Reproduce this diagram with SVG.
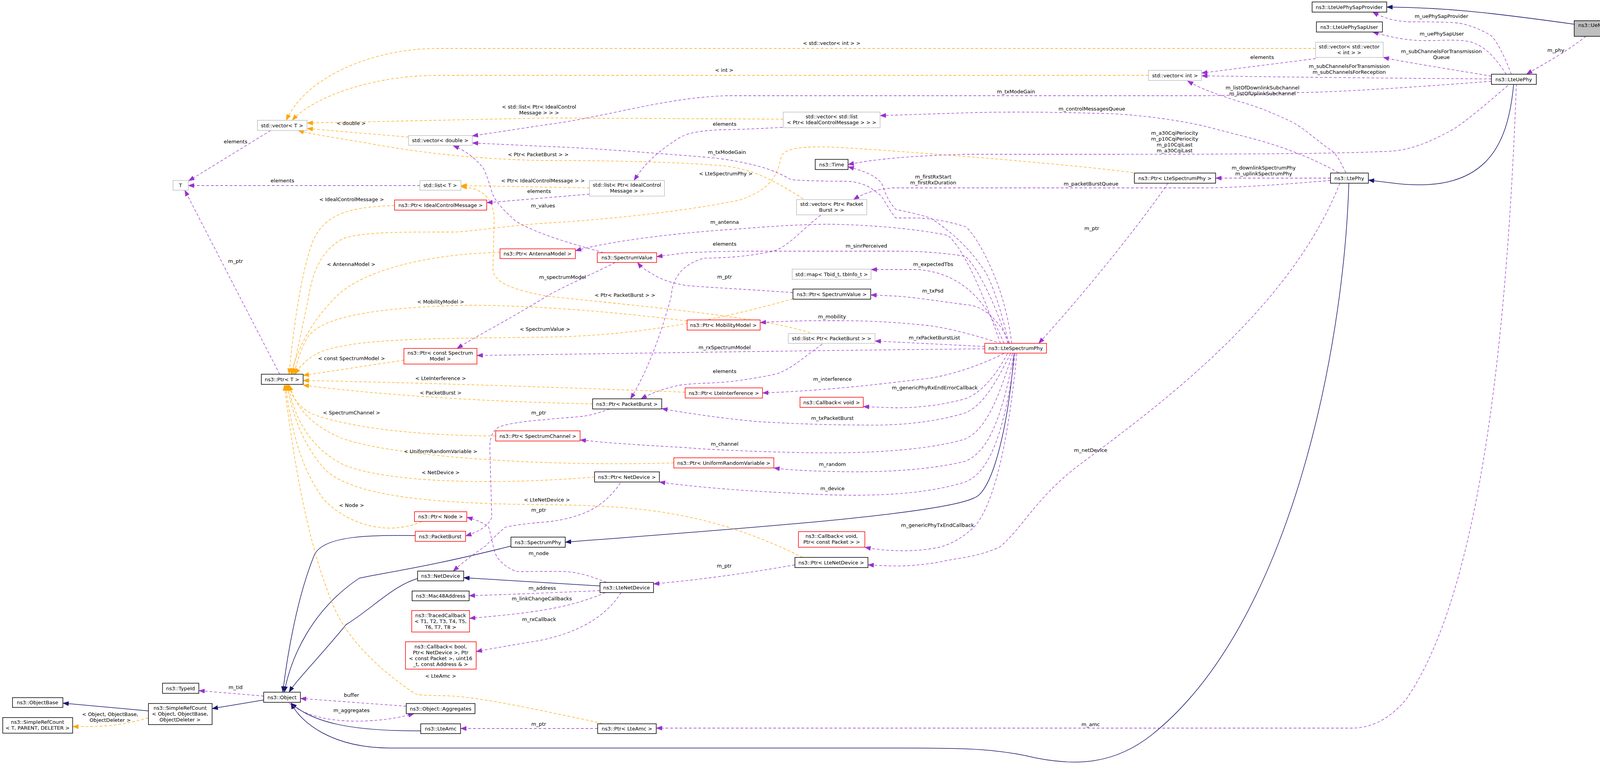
<svg xmlns="http://www.w3.org/2000/svg" width="4245" height="1961" viewBox="0 0 4245 1961">
<style>
text{font-family:"DejaVu Sans","Liberation Sans",Arial,sans-serif;font-size:13px;text-anchor:middle;fill:#000}
.nb{fill:#fff;stroke:#000;stroke-width:1.5}
.ng{fill:#fff;stroke:#bfbfbf;stroke-width:1.5}
.nr{fill:#fff;stroke:#ff0000;stroke-width:1.5}
.ns{fill:#bfbfbf;stroke:#000;stroke-width:1.5}
.p{fill:none;stroke:#9a32cd;stroke-width:1.3;stroke-dasharray:7,5;marker-end:url(#mp)}
.o{fill:none;stroke:#ffa500;stroke-width:1.3;stroke-dasharray:7,5;marker-end:url(#mo)}
.i{fill:none;stroke:#191970;stroke-width:1.5;marker-end:url(#mi)}
</style>
<defs>
<marker id="mp" markerUnits="userSpaceOnUse" markerWidth="16" markerHeight="12" refX="15" refY="6" orient="auto"><path d="M0,0 L16,6 L0,12 z" fill="#9a32cd"/></marker>
<marker id="mo" markerUnits="userSpaceOnUse" markerWidth="16" markerHeight="12" refX="15" refY="6" orient="auto"><path d="M0,0 L16,6 L0,12 z" fill="#ffa500"/></marker>
<marker id="mi" markerUnits="userSpaceOnUse" markerWidth="16" markerHeight="12" refX="15" refY="6" orient="auto"><path d="M0,0 L16,6 L0,12 z" fill="#191970"/></marker>
</defs>
<rect width="4245" height="1961" fill="#fff"/>
<g id="edges">
<path class="i" d="M4030,62 C3800,30 3700,20 3550,18"/>
<path class="i" d="M3875,215 C3860,380 3800,500 3560,468 L3503,461"/>
<path class="i" d="M3453,469 C3440,900 3300,1600 2950,1880 C2850,1960 2750,1960 2650,1940 C2550,1915 2450,1915 2300,1915 L1000,1915 C850,1915 770,1850 745,1800"/>
<path class="i" d="M2596,905 C2580,1100 2540,1260 2493,1275 C2400,1320 1800,1360 1447,1388"/>
<path class="i" d="M1308,1398 C1100,1450 1020,1460 920,1480 C800,1560 745,1680 728,1772"/>
<path class="i" d="M1063,1371 C950,1370 830,1370 805,1420 C760,1530 735,1680 724,1772"/>
<path class="i" d="M1069,1481 C1005,1500 950,1560 886,1599 C820,1680 760,1740 740,1772"/>
<path class="i" d="M1536,1500 L1187,1479"/>
<path class="i" d="M1077,1871 C900,1872 800,1850 745,1800"/>
<path class="i" d="M380,1820 L161,1800"/>
<path class="i" d="M675,1792 L543,1814"/>
<path class="o" d="M3368,124 L1120,124 C950,124 780,200 733,308"/>
<path class="o" d="M2940,193 L1120,193 C950,193 800,250 748,308"/>
<path class="o" d="M2005,305 L1400,302 L786,315"/>
<path class="o" d="M1046,351 L786,329"/>
<path class="o" d="M2056,509 C1980,460 1920,430 1846,424 C1700,412 1500,411 1400,411 C1250,409 1100,395 960,370 C880,355 800,345 763,334"/>
<path class="o" d="M1509,481 L1180,475"/>
<path class="o" d="M2074,852 C1950,810 1600,780 1400,758 C1300,740 1265,720 1262,690 L1265,560 C1263,510 1240,482 1180,478"/>
<path class="o" d="M1010,526 C900,530 830,545 800,620 C770,700 750,850 740,958"/>
<path class="o" d="M1280,646 C1100,650 930,690 860,760 C790,830 760,900 745,958"/>
<path class="o" d="M1759,822 C1600,800 1300,775 1143,783 C960,790 830,810 790,860 C770,890 760,930 752,958"/>
<path class="o" d="M2030,765 C1800,830 1600,860 1400,863 C1200,866 1000,865 893,883 C830,893 790,905 755,958"/>
<path class="o" d="M1034,922 L776,961"/>
<path class="o" d="M1754,1004 C1400,990 1000,978 776,974"/>
<path class="o" d="M1517,1034 C1300,1030 1000,1015 776,986"/>
<path class="o" d="M1269,1116 C1000,1115 850,1080 800,1060 C760,1040 745,1010 740,985"/>
<path class="o" d="M1725,1185 C1400,1195 1000,1170 870,1120 C780,1080 755,1030 740,985"/>
<path class="o" d="M1522,1221 C1300,1240 1000,1240 880,1190 C780,1140 750,1050 737,985"/>
<path class="o" d="M2055,1427 C1800,1300 1600,1295 1400,1292 C1100,1290 900,1270 830,1200 C770,1130 750,1060 734,985"/>
<path class="o" d="M1080,1335 C1000,1370 900,1350 830,1280 C770,1200 745,1100 731,985"/>
<path class="o" d="M1542,1852 C1300,1800 1200,1781 1132,1781 C1090,1780 1070,1780 1061,1775 C950,1700 880,1620 851,1545 C800,1420 760,1250 728,985"/>
<path class="o" d="M2901,442 C2800,428 2500,400 2159,378 C2050,372 2010,380 2000,400 C1990,460 1960,490 1891,513 C1700,550 1500,565 1400,571 C1300,577 1200,594 1161,594 C1000,594 937,594 880,610 C820,640 800,700 790,760 C770,860 755,920 748,958"/>
<path class="o" d="M380,1838 C330,1850 300,1862 186,1860"/>
<path class="p" d="M693,334 L483,463"/>
<path class="p" d="M1075,475 L482,475"/>
<path class="p" d="M3368,150 L3076,187"/>
<path class="p" d="M716,958 L473,487"/>
<path class="p" d="M2003,326 C1930,330 1880,332 1846,332 C1790,335 1760,340 1739,353 C1680,390 1650,420 1623,462"/>
<path class="p" d="M1509,497 L1246,519"/>
<path class="p" d="M1545,647 C1450,620 1380,600 1321,567 C1280,530 1265,510 1259,491 C1250,460 1240,430 1232,424 C1210,400 1190,385 1160,373"/>
<path class="p" d="M3818,208 C3600,225 3400,237 3316,237 C3200,244 3100,245 3076,245 L1860,245 C1700,250 1550,300 1400,319 L1209,348"/>
<path class="p" d="M2590,879 C2580,800 2560,740 2543,700 C2510,620 2480,585 2471,580 C2420,565 2380,558 2337,558 L2293,558 C2270,530 2260,500 2248,496 C2220,470 2190,464 2159,464 C2100,464 2050,462 2025,460 C1990,440 1960,430 1936,424 C1880,410 1840,405 1802,402 C1650,390 1500,378 1400,375 L1209,366"/>
<path class="p" d="M3427,442 C3350,400 3280,375 3215,357 C3150,340 3110,330 3076,321 C2950,295 2850,290 2800,290 C2700,287 2600,286 2500,288 L2253,296"/>
<path class="p" d="M3869,190 C3850,140 3830,100 3814,89 C3780,70 3750,60 3722,58 C3660,55 3630,56 3611,56 C3570,55 3540,45 3514,31"/>
<path class="p" d="M3856,190 C3830,150 3800,115 3760,106 C3720,100 3700,104 3650,104 C3600,104 3560,95 3514,82"/>
<path class="p" d="M3818,195 C3700,175 3600,160 3541,147"/>
<path class="p" d="M3818,202 C3500,200 3200,196 3076,194"/>
<path class="p" d="M3445,442 C3430,410 3420,390 3399,379 C3360,350 3340,330 3307,312 C3250,285 3210,270 3169,259 C3110,240 3070,225 3040,207"/>
<path class="p" d="M3860,219 C3800,270 3760,305 3722,330 C3650,370 3600,388 3537,388 C3450,392 3300,395 2800,395 L2471,395 C2300,400 2230,410 2171,421"/>
<path class="p" d="M2582,879 C2560,780 2540,730 2525,700 C2480,630 2430,590 2382,558 C2340,545 2310,540 2293,536 C2270,510 2265,490 2257,469 C2240,450 2220,440 2171,427"/>
<path class="p" d="M3406,456 L3112,456"/>
<path class="p" d="M3406,462 C3250,475 3150,481 3076,481 L2284,481 C2240,485 2210,495 2185,511"/>
<path class="p" d="M2990,469 C2900,600 2750,780 2659,879"/>
<path class="p" d="M3430,469 C3300,800 2950,1050 2750,1200 C2650,1280 2618,1350 2560,1400 C2500,1428 2448,1428 2400,1440 C2330,1450 2300,1451 2222,1446"/>
<path class="p" d="M3882,215 C3860,800 3800,1500 3600,1790 C3550,1850 3500,1864 3460,1864 L1680,1864"/>
<path class="p" d="M2580,879 C2550,780 2500,680 2471,656 C2400,645 2340,643 2293,643 L1936,643 C1850,643 1800,645 1757,647 L1681,657"/>
<path class="p" d="M2561,879 C2520,760 2470,640 2427,603 C2350,585 2200,574 2114,574 C1990,576 1920,585 1846,589 C1700,600 1550,620 1473,642"/>
<path class="p" d="M2570,879 C2530,780 2470,700 2350,690 L2230,690"/>
<path class="p" d="M2585,879 C2550,800 2500,780 2471,780 C2400,770 2330,760 2293,758 L2229,755"/>
<path class="p" d="M2552,876 C2470,850 2420,840 2382,834 C2250,820 2180,821 2114,821 C2040,821 1990,823 1946,826"/>
<path class="p" d="M2521,887 L2240,873"/>
<path class="p" d="M2521,893 C2000,898 1600,905 1221,910"/>
<path class="p" d="M2105,881 C2050,920 2020,950 1980,959 C1900,975 1850,980 1802,981 C1760,983 1750,985 1739,986 C1700,995 1670,1005 1641,1021"/>
<path class="p" d="M2570,905 C2500,940 2430,960 2382,968 C2200,990 2100,1000 1952,1006"/>
<path class="p" d="M2579,905 C2540,980 2500,1010 2471,1021 C2400,1040 2340,1044 2293,1044 L2210,1041"/>
<path class="p" d="M2587,905 C2540,1000 2510,1040 2471,1057 C2380,1085 2280,1090 2204,1088 C2100,1088 2000,1083 1936,1079 C1840,1070 1760,1058 1694,1046"/>
<path class="p" d="M2592,905 C2550,1040 2520,1100 2471,1124 C2350,1160 2150,1162 2025,1158 C1900,1155 1800,1150 1757,1146 C1650,1140 1550,1134 1485,1126"/>
<path class="p" d="M2596,905 C2560,1100 2520,1160 2471,1181 C2370,1205 2250,1210 2131,1207 C2050,1205 2010,1202 1981,1198"/>
<path class="p" d="M2599,905 C2570,1120 2530,1210 2471,1234 C2370,1265 2250,1270 2131,1267 C1950,1260 1800,1250 1688,1234"/>
<path class="p" d="M2603,905 C2580,1150 2540,1300 2493,1350 C2460,1380 2430,1395 2404,1401 C2370,1408 2340,1410 2314,1410 C2270,1410 2240,1406 2214,1401"/>
<path class="p" d="M1575,672 C1520,700 1450,730 1400,758 C1300,820 1220,860 1170,892"/>
<path class="p" d="M2030,749 C1900,740 1800,735 1757,731 C1720,725 1690,715 1668,700 C1650,690 1640,682 1632,672"/>
<path class="p" d="M2101,551 C2050,590 2020,630 1980,643 C1900,660 1840,660 1802,661 C1770,670 1750,685 1739,700 C1725,720 1721,730 1718,760 C1680,900 1640,980 1614,1021"/>
<path class="p" d="M1561,1047 C1530,1058 1510,1064 1489,1066 C1450,1070 1420,1071 1400,1074 C1340,1078 1300,1085 1277,1093 C1260,1105 1254,1120 1254,1146 L1259,1325 C1250,1345 1230,1360 1192,1372"/>
<path class="p" d="M1588,1236 C1560,1280 1520,1305 1489,1316 C1450,1330 1420,1334 1400,1336 C1350,1340 1310,1345 1293,1350 C1270,1370 1255,1385 1244,1397 C1210,1420 1185,1440 1160,1462"/>
<path class="p" d="M1553,1491 C1500,1470 1470,1463 1433,1463 C1380,1462 1350,1464 1321,1463 C1290,1450 1270,1430 1265,1408 C1258,1380 1255,1360 1250,1347 C1230,1335 1215,1330 1195,1324"/>
<path class="p" d="M1536,1512 C1400,1518 1300,1522 1201,1525"/>
<path class="p" d="M1550,1517 C1450,1560 1350,1570 1202,1583"/>
<path class="p" d="M1590,1517 C1550,1580 1480,1620 1380,1640 C1320,1650 1260,1660 1219,1668"/>
<path class="p" d="M2035,1446 C1900,1470 1780,1485 1673,1495"/>
<path class="p" d="M675,1782 L509,1768"/>
<path class="p" d="M1040,1808 L769,1788"/>
<path class="p" d="M740,1800 C790,1840 870,1850 950,1845 C1000,1842 1030,1835 1060,1827"/>
<path class="p" d="M1530,1865 L1179,1865"/>
<path class="p" d="M4060,93 C4000,140 3940,170 3908,190"/>
</g>
<g id="labels">
<text x="2129" y="115">&lt; std::vector&lt; int &gt; &gt;</text>
<text x="1854" y="184">&lt; int &gt;</text>
<text x="899" y="320">&lt; double &gt;</text>
<text x="1380" y="278">&lt; std::list&lt; Ptr&lt; IdealControl<tspan x="1380" dy="15">Message &gt; &gt; &gt;</tspan></text>
<text x="603" y="367">elements</text>
<text x="1378" y="400">&lt; Ptr&lt; PacketBurst &gt; &gt;</text>
<text x="723" y="467">elements</text>
<text x="1390" y="467">&lt; Ptr&lt; IdealControlMessage &gt; &gt;</text>
<text x="1380" y="494">elements</text>
<text x="1390" y="531">m_values</text>
<text x="900" y="515">&lt; IdealControlMessage &gt;</text>
<text x="899" y="681">&lt; AntennaModel &gt;</text>
<text x="603" y="673">m_ptr</text>
<text x="2601" y="239">m_txModeGain</text>
<text x="1861" y="394">m_txModeGain</text>
<text x="1855" y="322">elements</text>
<text x="2795" y="283">m_controlMessagesQueue</text>
<text x="1858" y="449">&lt; LteSpectrumPhy &gt;</text>
<text x="2389" y="457">m_firstRxStart<tspan x="2389" dy="15">m_firstRxDuration</tspan></text>
<text x="2793" y="475">m_packetBurstQueue</text>
<text x="1855" y="573">m_antenna</text>
<text x="1855" y="629">elements</text>
<text x="2218" y="634">m_sinrPerceived</text>
<text x="2389" y="681">m_expectedTbs</text>
<text x="2795" y="589">m_ptr</text>
<text x="3690" y="46">m_uePhySapProvider</text>
<text x="3691" y="91">m_uePhySapUser</text>
<text x="3690" y="136">m_subChannelsForTransmission<tspan x="3690" dy="15">Queue</tspan></text>
<text x="3231" y="151">elements</text>
<text x="3454" y="174">m_subChannelsForTransmission<tspan x="3454" dy="15">m_subChannelsForReception</tspan></text>
<text x="3983" y="133">m_phy</text>
<text x="3232" y="229">m_listOfDownlinkSubchannel<tspan x="3232" dy="15">m_listOfUplinkSubchannel</tspan></text>
<text x="3007" y="345">m_a30CqiPeriocity<tspan x="3007" dy="15">m_p10CqiPeriocity</tspan><tspan x="3007" dy="15">m_p10CqiLast</tspan><tspan x="3007" dy="15">m_a30CqiLast</tspan></text>
<text x="3235" y="434">m_downlinkSpectrumPhy<tspan x="3235" dy="15">m_uplinkSpectrumPhy</tspan></text>
<text x="1128" y="777">&lt; MobilityModel &gt;</text>
<text x="1395" y="847">&lt; SpectrumValue &gt;</text>
<text x="900" y="922">&lt; const SpectrumModel &gt;</text>
<text x="1128" y="973">&lt; LteInterference &gt;</text>
<text x="1128" y="1010">&lt; PacketBurst &gt;</text>
<text x="900" y="1061">&lt; SpectrumChannel &gt;</text>
<text x="1128" y="1160">&lt; UniformRandomVariable &gt;</text>
<text x="1128" y="1214">&lt; NetDevice &gt;</text>
<text x="1400" y="1284">&lt; LteNetDevice &gt;</text>
<text x="900" y="1298">&lt; Node &gt;</text>
<text x="1379" y="1061">m_ptr</text>
<text x="1379" y="1310">m_ptr</text>
<text x="1440" y="714">m_spectrumModel</text>
<text x="1855" y="713">m_ptr</text>
<text x="2388" y="749">m_txPsd</text>
<text x="1600" y="760">&lt; Ptr&lt; PacketBurst &gt; &gt;</text>
<text x="2130" y="815">m_mobility</text>
<text x="2392" y="869">m_rxPacketBurstList</text>
<text x="1855" y="894">m_rxSpectrumModel</text>
<text x="1855" y="955">elements</text>
<text x="2131" y="975">m_interference</text>
<text x="2393" y="997">m_genericPhyRxEndErrorCallback</text>
<text x="2131" y="1075">m_txPacketBurst</text>
<text x="1855" y="1141">m_channel</text>
<text x="2131" y="1193">m_random</text>
<text x="2131" y="1255">m_device</text>
<text x="2792" y="1157">m_netDevice</text>
<text x="2400" y="1349">m_genericPhyTxEndCallback</text>
<text x="1379" y="1421">m_node</text>
<text x="1388" y="1510">m_address</text>
<text x="1387" y="1537">m_linkChangeCallbacks</text>
<text x="1380" y="1590">m_rxCallback</text>
<text x="1128" y="1735">&lt; LteAmc &gt;</text>
<text x="603" y="1764">m_tid</text>
<text x="900" y="1784">buffer</text>
<text x="900" y="1823">m_aggregates</text>
<text x="1379" y="1858">m_ptr</text>
<text x="1854" y="1453">m_ptr</text>
<text x="2792" y="1859">m_amc</text>
<text x="282" y="1833">&lt; Object, ObjectBase,<tspan x="282" dy="15">ObjectDeleter &gt;</tspan></text>
</g>
<g id="n_uemember"><rect class="ns" x="4030" y="53" width="210" height="40"/><text x="4135" y="69">ns3::UeMemberLteUePhySap<tspan x="4135" dy="15">Provider</tspan></text></g>
<g id="n_sapprov"><rect class="nb" x="3359" y="5" width="191" height="26"/><text x="3454" y="23">ns3::LteUePhySapProvider</text></g>
<g id="n_sapuser"><rect class="nb" x="3370" y="56" width="169" height="26"/><text x="3454" y="74">ns3::LteUePhySapUser</text></g>
<g id="n_vecvecint"><rect class="ng" x="3368" y="108" width="173" height="39"/><text x="3454" y="124">std::vector&lt; std::vector<tspan x="3454" dy="15">&lt; int &gt; &gt;</tspan></text></g>
<g id="n_vecint"><rect class="ng" x="2940" y="180" width="136" height="26"/><text x="3008" y="198">std::vector&lt; int &gt;</text></g>
<g id="n_lteuephy"><rect class="nb" x="3818" y="190" width="115" height="26"/><text x="3875" y="208">ns3::LteUePhy</text></g>
<g id="n_ptrltespec"><rect class="nb" x="2904" y="443" width="208" height="26"/><text x="3008" y="461">ns3::Ptr&lt; LteSpectrumPhy &gt;</text></g>
<g id="n_ltephy"><rect class="nb" x="3406" y="443" width="97" height="26"/><text x="3454" y="461">ns3::LtePhy</text></g>
<g id="n_vecT"><rect class="ng" x="659" y="308" width="127" height="26"/><text x="722" y="326">std::vector&lt; T &gt;</text></g>
<g id="n_vecdouble"><rect class="ng" x="1046" y="347" width="163" height="25"/><text x="1127" y="364">std::vector&lt; double &gt;</text></g>
<g id="n_T"><rect class="ng" x="443" y="462" width="39" height="25"/><text x="462" y="479">T</text></g>
<g id="n_listT"><rect class="ng" x="1075" y="462" width="105" height="25"/><text x="1127" y="479">std::list&lt; T &gt;</text></g>
<g id="n_ptricm"><rect class="nr" x="1010" y="512" width="236" height="26"/><text x="1128" y="530">ns3::Ptr&lt; IdealControlMessage &gt;</text></g>
<g id="n_ptrant"><rect class="nr" x="1280" y="637" width="193" height="25"/><text x="1376" y="654">ns3::Ptr&lt; AntennaModel &gt;</text></g>
<g id="n_veclist"><rect class="ng" x="2005" y="287" width="248" height="40"/><text x="2129" y="303">std::vector&lt; std::list<tspan x="2129" dy="15">&lt; Ptr&lt; IdealControlMessage &gt; &gt; &gt;</tspan></text></g>
<g id="n_listicm"><rect class="ng" x="1509" y="462" width="192" height="40"/><text x="1605" y="478">std::list&lt; Ptr&lt; IdealControl<tspan x="1605" dy="15">Message &gt; &gt;</tspan></text></g>
<g id="n_time"><rect class="nb" x="2087" y="408" width="84" height="26"/><text x="2129" y="426">ns3::Time</text></g>
<g id="n_vecpb"><rect class="ng" x="2039" y="511" width="180" height="39"/><text x="2129" y="527">std::vector&lt; Ptr&lt; Packet<tspan x="2129" dy="15">Burst &gt; &gt;</tspan></text></g>
<g id="n_specval"><rect class="nr" x="1529" y="647" width="152" height="25"/><text x="1605" y="664">ns3::SpectrumValue</text></g>
<g id="n_map"><rect class="ng" x="2028" y="689" width="202" height="26"/><text x="2129" y="707">std::map&lt; Tbid_t, tbInfo_t &gt;</text></g>
<g id="n_ptrT"><rect class="nb" x="669" y="958" width="107" height="26"/><text x="722" y="976">ns3::Ptr&lt; T &gt;</text></g>
<g id="n_ptrcsm"><rect class="nr" x="1034" y="892" width="187" height="40"/><text x="1127" y="908">ns3::Ptr&lt; const Spectrum<tspan x="1127" dy="15">Model &gt;</tspan></text></g>
<g id="n_ptrsc"><rect class="nr" x="1269" y="1103" width="216" height="26"/><text x="1377" y="1121">ns3::Ptr&lt; SpectrumChannel &gt;</text></g>
<g id="n_ptrnode"><rect class="nr" x="1061" y="1310" width="134" height="25"/><text x="1128" y="1327">ns3::Ptr&lt; Node &gt;</text></g>
<g id="n_pb"><rect class="nr" x="1063" y="1360" width="129" height="26"/><text x="1127" y="1378">ns3::PacketBurst</text></g>
<g id="n_ptrsv"><rect class="nb" x="2030" y="740" width="199" height="26"/><text x="2129" y="758">ns3::Ptr&lt; SpectrumValue &gt;</text></g>
<g id="n_ptrmm"><rect class="nr" x="1759" y="819" width="187" height="26"/><text x="1852" y="837">ns3::Ptr&lt; MobilityModel &gt;</text></g>
<g id="n_listpb"><rect class="ng" x="2018" y="854" width="222" height="25"/><text x="2129" y="871">std::list&lt; Ptr&lt; PacketBurst &gt; &gt;</text></g>
<g id="n_lsp"><rect class="nr" x="2521" y="879" width="158" height="25"/><text x="2600" y="896">ns3::LteSpectrumPhy</text></g>
<g id="n_ptrli"><rect class="nr" x="1754" y="993" width="198" height="26"/><text x="1853" y="1011">ns3::Ptr&lt; LteInterference &gt;</text></g>
<g id="n_ptrpb"><rect class="nb" x="1517" y="1021" width="177" height="26"/><text x="1605" y="1039">ns3::Ptr&lt; PacketBurst &gt;</text></g>
<g id="n_cbvoid"><rect class="nr" x="2048" y="1017" width="162" height="26"/><text x="2129" y="1035">ns3::Callback&lt; void &gt;</text></g>
<g id="n_ptrurv"><rect class="nr" x="1725" y="1172" width="256" height="26"/><text x="1853" y="1190">ns3::Ptr&lt; UniformRandomVariable &gt;</text></g>
<g id="n_ptrnd"><rect class="nb" x="1522" y="1208" width="166" height="26"/><text x="1605" y="1226">ns3::Ptr&lt; NetDevice &gt;</text></g>
<g id="n_cbvp"><rect class="nr" x="2044" y="1361" width="170" height="40"/><text x="2129" y="1377">ns3::Callback&lt; void,<tspan x="2129" dy="15">Ptr&lt; const Packet &gt; &gt;</tspan></text></g>
<g id="n_specphy"><rect class="nb" x="1308" y="1375" width="139" height="26"/><text x="1377" y="1393">ns3::SpectrumPhy</text></g>
<g id="n_netdev"><rect class="nb" x="1069" y="1462" width="118" height="25"/><text x="1128" y="1479">ns3::NetDevice</text></g>
<g id="n_mac"><rect class="nb" x="1055" y="1513" width="146" height="25"/><text x="1128" y="1530">ns3::Mac48Address</text></g>
<g id="n_traced"><rect class="nr" x="1054" y="1563" width="148" height="55"/><text x="1128" y="1580">ns3::TracedCallback<tspan x="1128" dy="15">&lt; T1, T2, T3, T4, T5,</tspan><tspan x="1128" dy="15">T6, T7, T8 &gt;</tspan></text></g>
<g id="n_cbbool"><rect class="nr" x="1038" y="1643" width="181" height="70"/><text x="1128" y="1660">ns3::Callback&lt; bool,<tspan x="1128" dy="15">Ptr&lt; NetDevice &gt;, Ptr</tspan><tspan x="1128" dy="15">&lt; const Packet &gt;, uint16</tspan><tspan x="1128" dy="15">_t, const Address &amp; &gt;</tspan></text></g>
<g id="n_object"><rect class="nb" x="675" y="1772" width="94" height="26"/><text x="722" y="1790">ns3::Object</text></g>
<g id="n_agg"><rect class="nb" x="1040" y="1801" width="176" height="26"/><text x="1128" y="1819">ns3::Object::Aggregates</text></g>
<g id="n_lteamc"><rect class="nb" x="1077" y="1853" width="102" height="25"/><text x="1128" y="1870">ns3::LteAmc</text></g>
<g id="n_ltenetdev"><rect class="nb" x="1536" y="1491" width="137" height="26"/><text x="1604" y="1509">ns3::LteNetDevice</text></g>
<g id="n_ptrlnd"><rect class="nb" x="2035" y="1427" width="187" height="26"/><text x="2128" y="1445">ns3::Ptr&lt; LteNetDevice &gt;</text></g>
<g id="n_ptramc"><rect class="nb" x="1530" y="1853" width="150" height="25"/><text x="1605" y="1870">ns3::Ptr&lt; LteAmc &gt;</text></g>
<g id="n_typeid"><rect class="nb" x="416" y="1749" width="93" height="26"/><text x="462" y="1767">ns3::TypeId</text></g>
<g id="n_objbase"><rect class="nb" x="32" y="1786" width="129" height="25"/><text x="96" y="1803">ns3::ObjectBase</text></g>
<g id="n_src1"><rect class="nb" x="380" y="1801" width="163" height="54"/><text x="461" y="1817">ns3::SimpleRefCount<tspan x="461" dy="15">&lt; Object, ObjectBase,</tspan><tspan x="461" dy="15">ObjectDeleter &gt;</tspan></text></g>
<g id="n_src2"><rect class="nb" x="7" y="1837" width="179" height="40"/><text x="96" y="1853">ns3::SimpleRefCount<tspan x="96" dy="15">&lt; T, PARENT, DELETER &gt;</tspan></text></g>
</svg>
